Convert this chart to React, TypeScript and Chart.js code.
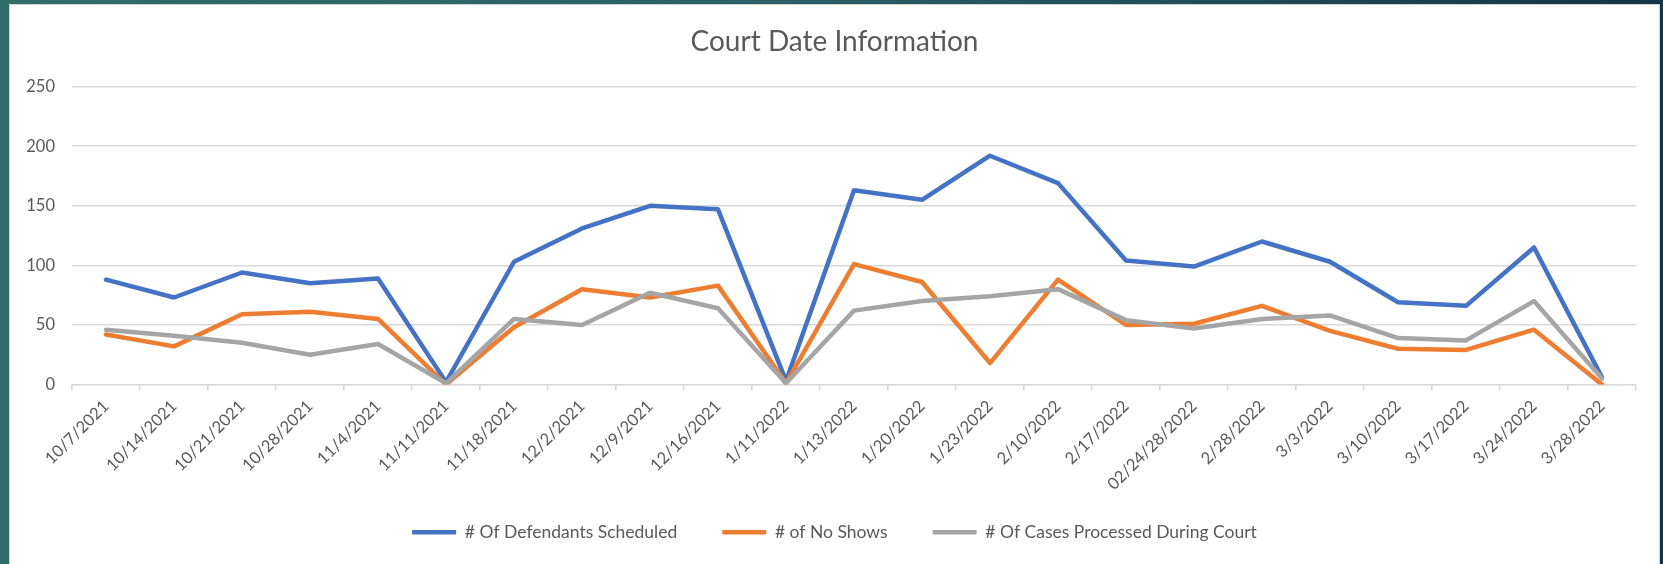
import React, { useEffect, useRef } from "react";
import { Chart, registerables } from "chart.js";

Chart.register(...registerables);

const categories = [
  "10/7/2021", "10/14/2021", "10/21/2021", "10/28/2021", "11/4/2021", "11/11/2021",
  "11/18/2021", "12/2/2021", "12/9/2021", "12/16/2021", "1/11/2022", "1/13/2022",
  "1/20/2022", "1/23/2022", "2/10/2022", "2/17/2022", "02/24/28/2022", "2/28/2022",
  "3/3/2022", "3/10/2022", "3/17/2022", "3/24/2022", "3/28/2022",
];

const defendantsScheduled = [88, 73, 94, 85, 89, 2, 103, 131, 150, 147, 3, 163, 155, 192, 169, 104, 99, 120, 103, 69, 66, 115, 6];
const noShows = [42, 32, 59, 61, 55, 0, 48, 80, 73, 83, 1, 101, 86, 18, 88, 50, 51, 66, 45, 30, 29, 46, 0];
const casesProcessed = [46, 41, 35, 25, 34, 1, 55, 50, 77, 64, 1, 62, 70, 74, 80, 54, 47, 55, 58, 39, 37, 70, 5];

const yMin = 0;
const yMax = 250;
const yStep = 50;

const seriesNames = ["# Of Defendants Scheduled", "# of No Shows", "# Of Cases Processed During Court"];
const seriesColors = ["#4472C4", "#ED7D31", "#A5A5A5"];

export default function App() {
  const ref = useRef<HTMLCanvasElement>(null);

  useEffect(() => {
    document.body.style.margin = "0";
    const values = [defendantsScheduled, noShows, casesProcessed];
    const chart = new Chart(ref.current as HTMLCanvasElement, {
      type: "line",
      data: {
        labels: categories,
        datasets: values.map((v, i) => ({
          label: seriesNames[i],
          data: v,
          borderColor: seriesColors[i],
          backgroundColor: seriesColors[i],
          borderWidth: 4.5,
          pointRadius: 0,
          pointHoverRadius: 0,
          tension: 0,
          borderJoinStyle: "round" as const,
          borderCapStyle: "round" as const,
          order: 3 - i,
        })),
      },
      options: {
        responsive: false,
        animation: false,
        layout: { padding: { left: 23, right: 23, top: 0, bottom: 0 } },
        plugins: {
          tooltip: { enabled: false },
          title: {
            display: true,
            text: "Court Date Information",
            color: "#595959",
            font: { family: "Lato", size: 28, weight: "normal" },
            padding: { top: 20, bottom: 28 },
          },
          legend: {
            position: "bottom",
            labels: {
              usePointStyle: true,
              pointStyle: "line",
              pointStyleWidth: 44,
              boxHeight: 4,
              padding: 45,
              color: "#595959",
              font: { family: "Lato", size: 17.5 },
              sort: (a: any, b: any) => a.datasetIndex - b.datasetIndex,
            },
          },
        },
        scales: {
          x: {
            offset: true,
            grid: {
              offset: true,
              drawOnChartArea: false,
              drawTicks: true,
              tickLength: 6,
              color: "#d9d9d9",
              lineWidth: 1.5,
            },
            border: { display: true, color: "#d9d9d9", width: 1.5 },
            ticks: {
              autoSkip: false,
              maxRotation: 45,
              minRotation: 45,
              color: "#595959",
              font: { family: "Lato", size: 16.5 },
              padding: 6,
            },
            afterFit: (scale: any) => {
              scale.height = 94;
              scale._computeLabelArea = () => undefined;
            },
          },
          y: {
            min: yMin,
            max: yMax,
            ticks: {
              stepSize: yStep,
              color: "#595959",
              font: { family: "Lato", size: 16.5 },
              padding: 17,
            },
            grid: { color: "#d9d9d9", lineWidth: 1.5, drawTicks: false },
            border: { display: false },
            afterFit: (scale: any) => {
              scale.width = 39;
              scale._computeLabelArea = () => undefined;
            },
          },
        },
      },
    });
    return () => chart.destroy();
  }, []);

  return (
    <div
      style={{
        position: "relative",
        width: 1663,
        height: 564,
        overflow: "hidden",
        background: "linear-gradient(90deg, #2f6c67 0%, #2b6264 45%, #1d4a55 75%, #143446 100%)",
      }}
    >
      <div
        style={{
          position: "absolute",
          left: 10,
          top: 5,
          width: 1649,
          height: 559,
          background: "#ffffff",
          overflow: "hidden",
          boxShadow: "0 0 0 1px #cfd4d4",
        }}
      >
        <canvas ref={ref} width={1649} height={546} style={{ display: "block" }} />
      </div>
    </div>
  );
}
